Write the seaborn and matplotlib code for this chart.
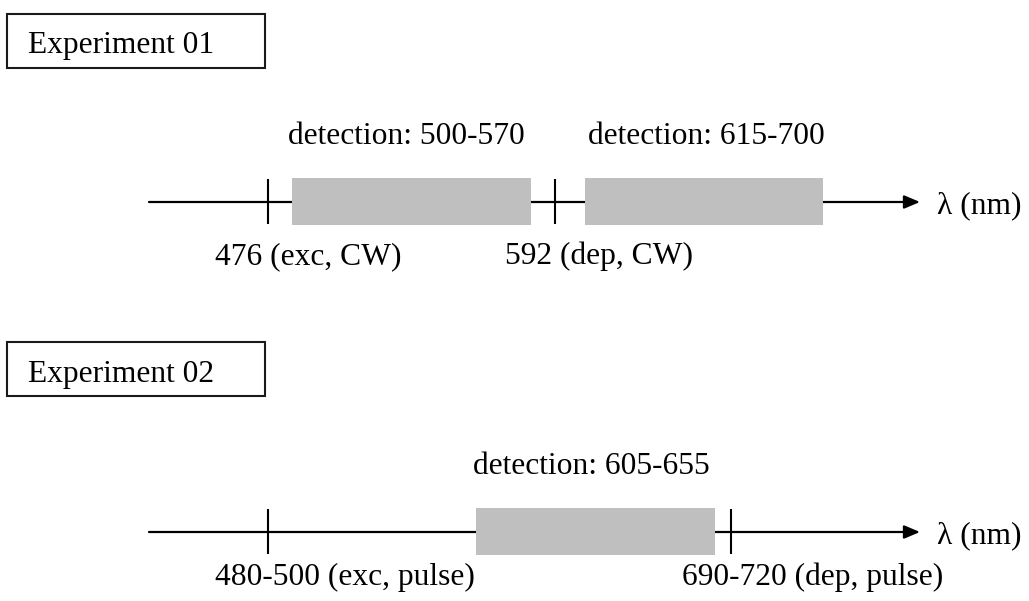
import matplotlib
matplotlib.use("Agg")
import matplotlib.pyplot as plt
from matplotlib.patches import Rectangle
import seaborn as sns

# ---- content (labels) ----
experiments = ["Experiment 01", "Experiment 02"]
axis_label = "λ (nm)"
exp1_marks = ["476 (exc, CW)", "592 (dep, CW)"]
exp1_detect = ["detection: 500-570", "detection: 615-700"]
exp2_marks = ["480-500 (exc, pulse)", "690-720 (dep, pulse)"]
exp2_detect = ["detection: 605-655"]

# ---- schematic layout (pixel slots, not data) ----
layout = [
    dict(title_box=(7, 14, 258, 54), title_base=53, axis_y=202,
         mark_x=[268, 555], mark_label_x=[215, 505], mark_base=264,
         det_span=[(292, 531), (585, 823)], det_text_x=[288, 588], det_base=144),
    dict(title_box=(7, 342, 258, 54), title_base=382, axis_y=532,
         mark_x=[268, 731], mark_label_x=[215, 682], mark_base=585,
         det_span=[(476, 715)], det_text_x=[473], det_base=474),
]
marks = [exp1_marks, exp2_marks]
detects = [exp1_detect, exp2_detect]

sns.set_theme(style="white")
plt.rcParams["font.family"] = ["Liberation Serif", "DejaVu Serif"]
FS = 22.7
GREY = "#bfbfbf"

fig = plt.figure(figsize=(10.29, 6.01), dpi=100)
ax = fig.add_axes([0, 0, 1, 1])
ax.set_xlim(0, 1029)
ax.set_ylim(601, 0)
ax.axis("off")

for name, lay, mk, dt in zip(experiments, layout, marks, detects):
    x0, y0, w, h = lay["title_box"]
    ax.add_patch(Rectangle((x0, y0), w, h, fill=False, edgecolor="#1a1a1a", lw=1.5, zorder=3))
    ax.text(28, lay["title_base"], name, fontsize=FS, va="baseline", ha="left", color="black")

    y = lay["axis_y"]
    ax.annotate("", xy=(920, y), xytext=(149, y),
                arrowprops=dict(arrowstyle="-|>,head_length=0.95,head_width=0.4",
                                mutation_scale=10, lw=1.6, color="black",
                                shrinkA=0, shrinkB=0), zorder=1)
    ax.text(937, y, axis_label, fontsize=FS, va="center_baseline", ha="left", color="black")

    for (a, b), txt, tx in zip(lay["det_span"], dt, lay["det_text_x"]):
        ax.add_patch(Rectangle((a, y - 24), b - a, 47, facecolor=GREY, edgecolor="none", zorder=2))
        ax.text(tx, lay["det_base"], txt, fontsize=FS, va="baseline", ha="left", color="black")

    for mx, lbl, lx in zip(lay["mark_x"], mk, lay["mark_label_x"]):
        ax.plot([mx, mx], [y - 23, y + 22], color="black", lw=1.5, zorder=3,
                solid_capstyle="butt")
        ax.text(lx, lay["mark_base"], lbl, fontsize=FS, va="baseline", ha="left", color="black")

fig.savefig("out.png", dpi=100, facecolor="white")
